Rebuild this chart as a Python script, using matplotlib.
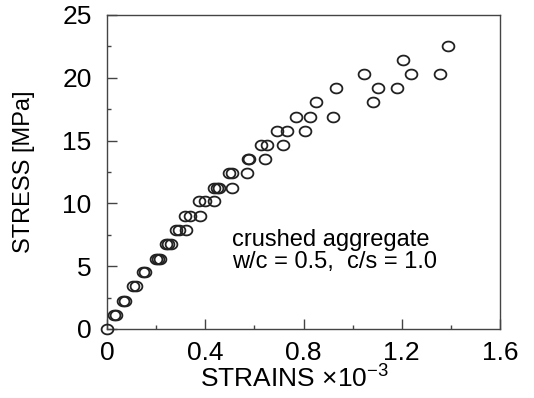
import matplotlib

matplotlib.use("Agg")
import matplotlib.pyplot as plt
import numpy as np
from matplotlib.path import Path
from matplotlib.ticker import MultipleLocator

plt.rcParams["font.family"] = ["Liberation Sans", "DejaVu Sans"]
plt.rcParams["mathtext.fontset"] = "custom"
plt.rcParams["mathtext.rm"] = "Liberation Sans"
plt.rcParams["mathtext.it"] = "Liberation Sans:italic"

# stress levels (MPa) and strains (x1e-3)
strain = [
    0.0,
    0.028, 0.035,
    0.065, 0.072,
    0.107, 0.117,
    0.146, 0.156,
    0.200, 0.208, 0.215,
    0.239, 0.249, 0.260,
    0.281, 0.292, 0.322,
    0.318, 0.339, 0.378,
    0.375, 0.399, 0.436,
    0.437, 0.447, 0.454, 0.507,
    0.496, 0.510, 0.568,
    0.572, 0.579, 0.642,
    0.628, 0.651, 0.718,
    0.694, 0.732, 0.808,
    0.771, 0.825, 0.919,
    0.850, 1.082,
    0.933, 1.103, 1.181,
    1.047, 1.236, 1.357,
    1.204,
    1.389,
]
stress = [
    0.0,
    1.1, 1.1,
    2.25, 2.25,
    3.4, 3.4,
    4.5, 4.5,
    5.6, 5.6, 5.6,
    6.75, 6.75, 6.75,
    7.9, 7.9, 7.9,
    9.0, 9.0, 9.0,
    10.15, 10.15, 10.15,
    11.25, 11.25, 11.25, 11.25,
    12.4, 12.4, 12.4,
    13.5, 13.5, 13.5,
    14.65, 14.65, 14.65,
    15.8, 15.8, 15.8,
    16.9, 16.9, 16.9,
    18.05, 18.05,
    19.15, 19.15, 19.15,
    20.3, 20.3, 20.3,
    21.4,
    22.55,
]
x_ticks = [0, 0.4, 0.8, 1.2, 1.6]
x_tick_labels = ["0", "0.4", "0.8", "1.2", "1.6"]
y_ticks = [0, 5, 10, 15, 20, 25]
note_lines = ["crushed aggregate", "w/c = 0.5,  c/s = 1.0"]

# the source picture is a bit wider than tall, so the circles come out as flat ellipses
t = np.linspace(0, 2 * np.pi, 41)
ring = Path(np.column_stack([1.2 * np.cos(t), np.sin(t)]), closed=True)

fig = plt.figure(figsize=(5.34, 3.98), dpi=100)
ax = fig.add_axes([0.2004, 0.1734, 0.736, 0.789])

ax.plot(strain, stress, linestyle="none", marker=ring, markersize=8.5,
        markerfacecolor="none", markeredgecolor="#222222", markeredgewidth=1.3,
        clip_on=False, zorder=3)

ax.set_xlim(0, 1.6)
ax.set_ylim(0, 25)
ax.set_xticks(x_ticks)
ax.set_xticklabels(x_tick_labels)
ax.set_yticks(y_ticks)
ax.xaxis.set_minor_locator(MultipleLocator(0.2))
ax.yaxis.set_minor_locator(MultipleLocator(2.5))
ax.tick_params(which="both", direction="in", top=False, right=False,
               labelsize=19, color="#444444")
ax.tick_params(axis="x", pad=9)
ax.tick_params(axis="y", pad=11)
ax.tick_params(which="major", length=7, width=1)
ax.tick_params(which="minor", length=3, width=1)
for side in ax.spines.values():
    side.set_color("#444444")
    side.set_linewidth(1.0)

ax.set_xlabel(r"STRAINS $\times$10$^{-3}$", fontsize=19)
ax.xaxis.set_label_coords(0.478, -0.115)
ax.set_ylabel("STRESS [MPa]", fontsize=17)
ax.yaxis.set_label_coords(-0.183, 0.5)

ax.text(0.509, 6.6, note_lines[0], fontsize=17, va="baseline")
ax.text(0.509, 4.86, note_lines[1], fontsize=17, va="baseline")

fig.savefig("out.png", dpi=100)
